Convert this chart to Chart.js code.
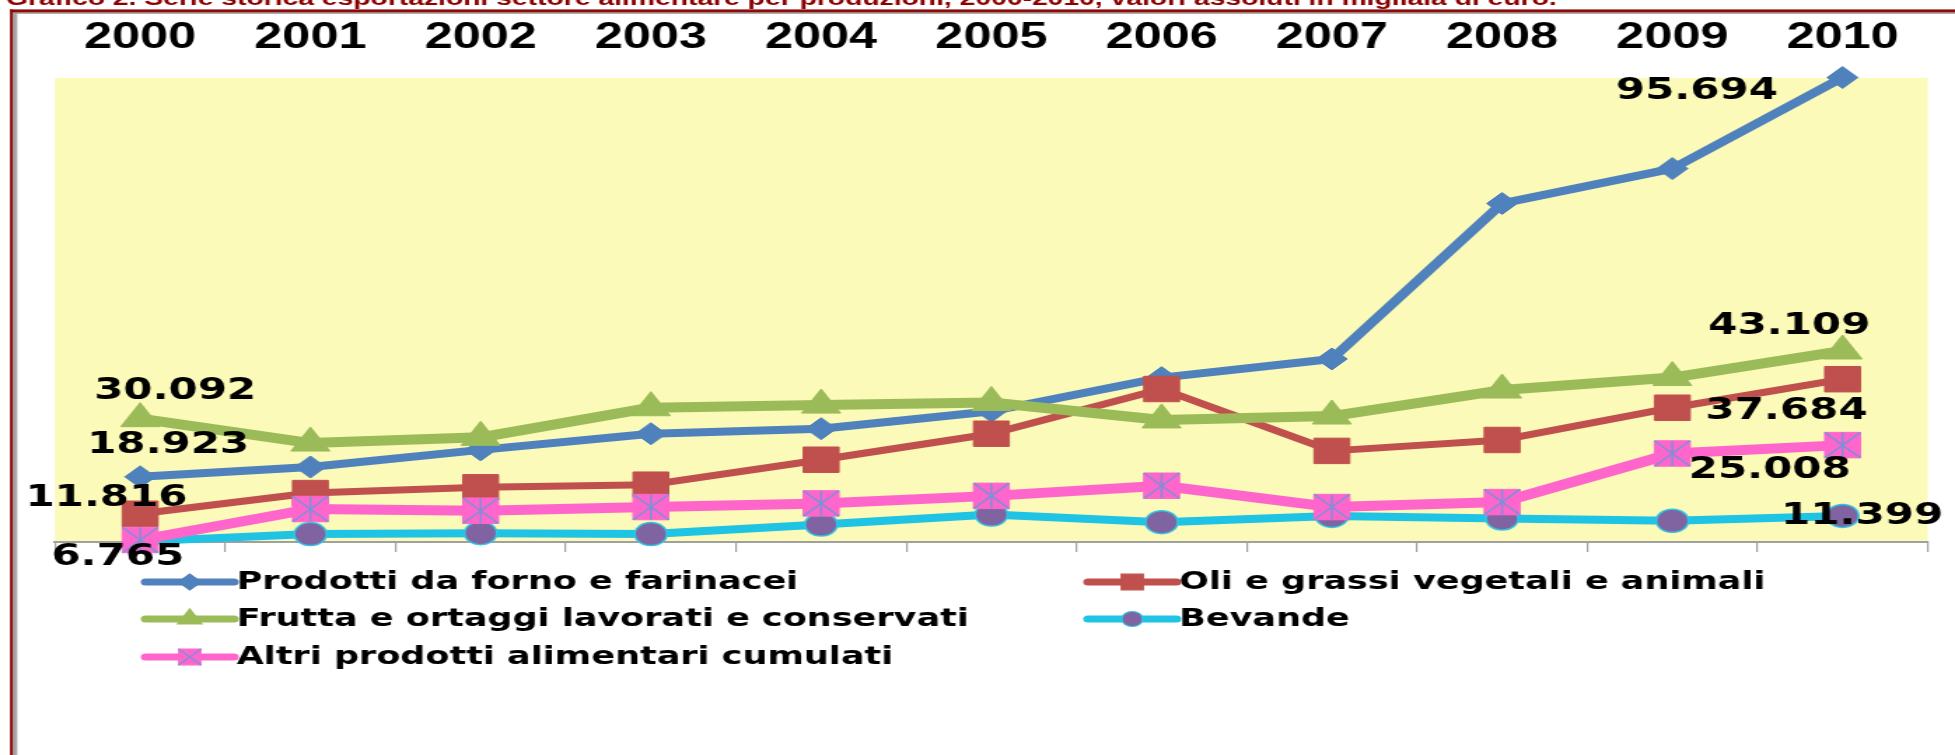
<!DOCTYPE html>
<html lang="it">
<head>
<meta charset="utf-8">
<title>Serie storica esportazioni settore alimentare per produzioni, 2000-2010</title>
<script src="https://cdn.jsdelivr.net/npm/chart.js@4.4.1/dist/chart.umd.min.js"></script>
<style>
  html, body { margin:0; padding:0; background:#fff; overflow:hidden; }
  /* the original picture is stretched sideways: draw narrow, show wide */
  #grafico { display:block; width:1955px !important; height:755px !important; }
</style>
</head>
<body>
<canvas id="grafico" width="1396" height="755" style="width:1955px;height:755px"></canvas>
<script>
// valori assoluti in migliaia di euro
const anni = ['2000','2001','2002','2003','2004','2005','2006','2007','2008','2009','2010'];
const prodottiForno = [18923, 20800, 24090, 27200, 28160, 31520, 37980, 41570, 71480, 78180, 95694];
const oliGrassi     = [11816, 15790, 16900, 17400, 22200, 27200, 35800, 23900, 26000, 32200, 37684];
const fruttaOrtaggi = [30092, 25400, 26500, 32200, 32700, 33200, 29850, 30600, 35600, 38000, 43109];
const bevande       = [ 6500,  7910,  8070,  7900,  9740, 11660, 10200, 11400, 10900, 10460, 11399];
const altriProdotti = [ 6765, 12720, 12400, 13100, 13800, 15250, 17200, 13100, 14050, 23400, 25008];

const titolo = 'Grafico 2. Serie storica esportazioni settore alimentare per produzioni, 2000-2010, valori assoluti in migliaia di euro.';
const yMin = 6380, yMax = 95600;

const formatoIt = v => String(v).replace(/\B(?=(\d{3})+(?!\d))/g, '.');

// sfondo giallo, cornice e titolo tagliato
const sfondo = {
  id: 'sfondo',
  beforeDraw(chart) {
    const { ctx, chartArea: a, width, height } = chart;
    ctx.save();
    ctx.fillStyle = '#fff';
    ctx.fillRect(0, 0, width, height);
    ctx.fillStyle = '#FBFAB8';
    ctx.fillRect(a.left, a.top, a.right - a.left, a.bottom - a.top);

    ctx.fillStyle = '#A5A5A5';
    ctx.fillRect(9, 12.3, width, 1.6);
    ctx.fillRect(9, 12.3, 3.3, height);
    ctx.fillStyle = '#8E0B0B';
    ctx.fillRect(7.1, 9.4, width, 3);
    ctx.fillRect(7.1, 9.4, 2, height);

    ctx.font = 'bold 20px "Liberation Sans"';
    const w = ctx.measureText(titolo).width;
    const size = 20 * 1108 / w;
    ctx.font = 'bold ' + size.toFixed(2) + 'px "Liberation Sans"';
    ctx.fillStyle = '#8B0000';
    ctx.textBaseline = 'alphabetic';
    ctx.fillText(titolo, 4.3, 5);
    ctx.restore();
  }
};

// etichette dei valori (primo e ultimo anno)
const etichette = {
  id: 'etichette',
  afterDatasetsDraw(chart) {
    const pos = [
      [2, 0, 25, -27], [0, 0, 20, -32], [1, 0, -24, -16], [4, 0, -16, 17],
      [0, 10, -104, 14], [2, 10, -38, -25], [1, 10, -40, 32], [4, 10, -52, 25], [3, 10, 14, 0]
    ];
    const ctx = chart.ctx;
    ctx.save();
    ctx.font = 'bold 30px "DejaVu Sans"';
    ctx.fillStyle = '#000';
    ctx.textAlign = 'center';
    ctx.textBaseline = 'middle';
    pos.forEach(([ds, i, dx, dy]) => {
      const p = chart.getDatasetMeta(ds).data[i];
      ctx.fillText(formatoIt(chart.data.datasets[ds].data[i]), p.x + dx, p.y + dy);
    });
    ctx.restore();
  }
};

// legenda su due colonne
const legenda = {
  id: 'legenda',
  afterDraw(chart) {
    const voci = [[0, 104, 582], [1, 777, 582], [2, 104, 619], [3, 777, 619], [4, 104, 657]];
    const raggi = [8, 11, 10, 7.5, 11];
    const ctx = chart.ctx;
    const dp = Chart.helpers && Chart.helpers.drawPoint;
    ctx.save();
    voci.forEach(([k, x, y], n) => {
      const ds = chart.data.datasets[k];
      ctx.strokeStyle = ds.borderColor;
      ctx.lineWidth = 7;
      ctx.lineCap = 'round';
      ctx.beginPath();
      ctx.moveTo(x, y);
      ctx.lineTo(x + 63, y);
      ctx.stroke();
      const cx = x + 31.5;
      if (dp) {
        ctx.fillStyle = ds.pointBackgroundColor;
        ctx.strokeStyle = ds.pointBorderColor;
        ctx.lineWidth = 1.2;
        dp(ctx, { pointStyle: ds.pointStyle, radius: raggi[n], borderWidth: 1.2, rotation: 0 }, cx, y);
        if (k === 4) {
          ctx.strokeStyle = '#7F8FD8';
          dp(ctx, { pointStyle: 'crossRot', radius: raggi[n], borderWidth: 1.2, rotation: 0 }, cx, y);
        }
      }
      ctx.font = 'bold 25px "DejaVu Sans"';
      ctx.fillStyle = '#000';
      ctx.textBaseline = 'middle';
      ctx.textAlign = 'left';
      ctx.fillText(ds.label, x + 65, y);
    });
    ctx.restore();
  }
};

const serie = (label, data, colore, extra) => Object.assign({
  label, data,
  borderColor: colore,
  backgroundColor: colore,
  pointBackgroundColor: colore,
  pointBorderColor: colore,
  pointBorderWidth: 1,
  tension: 0,
  clip: false,
  borderJoinStyle: 'round'
}, extra);

new Chart(document.getElementById('grafico'), {
  type: 'line',
  data: {
    labels: anni,
    datasets: [
      serie('Prodotti da forno e farinacei', prodottiForno, '#4F81BD',
        { borderWidth: 8, pointStyle: 'rectRot', pointRadius: 11, order: 5 }),
      serie('Oli e grassi vegetali e animali', oliGrassi, '#C0504D',
        { borderWidth: 7, pointStyle: 'rect', pointRadius: 18, order: 4 }),
      serie('Frutta e ortaggi lavorati e conservati', fruttaOrtaggi, '#9BBB59',
        { borderWidth: 10, pointStyle: 'triangle', pointRadius: 16, order: 3 }),
      serie('Bevande', bevande, '#1FC4E4',
        { borderWidth: 8, pointStyle: 'circle', pointRadius: 11.5, pointBackgroundColor: '#8064A2',
          pointBorderColor: '#2FC6E6', pointBorderWidth: 1.5, order: 2 }),
      serie('Altri prodotti alimentari cumulati', altriProdotti, '#FF66CC',
        { borderWidth: 10, pointStyle: 'rect', pointRadius: 18, order: 1 }),
      serie('', altriProdotti, '#7F8FD8',
        { showLine: false, pointStyle: 'crossRot', pointRadius: 18, pointBorderWidth: 1.5, order: 0 }),
      serie('', altriProdotti, '#7F8FD8',
        { showLine: false, pointStyle: 'line', pointRotation: 90, pointRadius: 12.5, pointBorderWidth: 1.5, order: 0 })
    ]
  },
  options: {
    responsive: false,
    animation: false,
    devicePixelRatio: 1,
    layout: { padding: { left: 39.3, right: 15.3, top: 0, bottom: 0 } },
    plugins: { legend: { display: false }, tooltip: { enabled: false }, title: { display: false } },
    scales: {
      x: {
        position: 'top',
        offset: true,
        grid: { display: false },
        border: { display: false },
        ticks: { color: '#000', padding: 10, autoSkip: false, maxRotation: 0,
                 font: { family: 'Liberation Sans', size: 36, weight: 'bold' } },
        afterFit: s => { s.height = 78; }
      },
      xBasso: {
        type: 'category',
        position: 'bottom',
        labels: anni,
        offset: true,
        grid: { offset: true, drawOnChartArea: false, tickLength: 10, color: '#A0A0A0', lineWidth: 1.2 },
        border: { color: '#A0A0A0', width: 2 },
        ticks: { display: false },
        afterFit: s => { s.height = 755 - 542; }
      },
      y: { display: false, min: yMin, max: yMax }
    }
  },
  plugins: [sfondo, etichette, legenda]
});
</script>
</body>
</html>
